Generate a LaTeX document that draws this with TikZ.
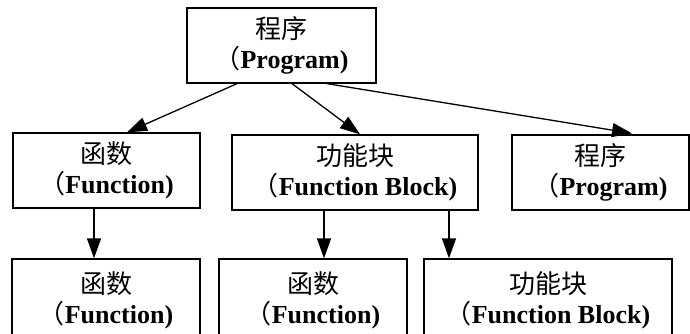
\documentclass[tikz,border=0pt]{standalone}
\usepackage{fontspec}
\setmainfont{Liberation Serif}
\newfontfamily\cjk{Noto Sans CJK SC}
\usetikzlibrary{arrows.meta,calc}

\newcommand{\zh}[1]{{\cjk #1}}
\newcommand{\en}[1]{\zh{（}\textbf{#1)}}

\begin{document}
\begin{tikzpicture}[
        x=1pt, y=-1pt,
        font=\fontsize{26}{30}\selectfont,
        box/.style={draw, line width=1.3pt, align=center, minimum height=75pt, inner sep=0pt},
        line/.style={-{Triangle[length=20pt,width=14pt]}, line width=1.3pt}
    ]
        \useasboundingbox (0,0) rectangle (690,334);
        \clip (0,0) rectangle (690,334);

        \node[box, minimum width=189pt] (prog) at (281.5,45.5) {\zh{程序}\\\en{Program}};

        \node[box, minimum width=187pt] (func) at (106.5,170.5) {\zh{函数}\\\en{Function}};
        \node[box, minimum width=246pt] (fb) at (355,172.5) {\zh{功能块}\\\en{Function Block}};
        \node[box, minimum width=177pt] (prog2) at (600.5,172.5) {\zh{程序}\\\en{Program}};

        \node[box, minimum width=188pt, minimum height=83pt] (func2) at (106,300.5) {\zh{函数}\\\en{Function}};
        \node[box, minimum width=188pt, minimum height=83pt] (func3) at (313,300.5) {\zh{函数}\\\en{Function}};
        \node[box, minimum width=248pt, minimum height=83pt] (fb2) at (548,300.5) {\zh{功能块}\\\en{Function Block}};

        \draw[line] ([xshift=-44.5pt]prog.south) -- ([xshift=20.5pt]func.north);
        \draw[line] ([xshift=10.5pt]prog.south) -- ([xshift=5pt]fb.north);
        \draw[line] ([xshift=45.5pt]prog.south) -- ([xshift=31.5pt,yshift=1pt]prog2.north);

        \draw[line] ([xshift=-12.5pt]func.south) -- ([xshift=-12.5pt]func.south |- func2.north);
        \draw[line] ([xshift=-31pt]fb.south) -- ([xshift=-31pt]fb.south |- func3.north);
        \draw[line] ([xshift=94pt]fb.south) -- ([xshift=94pt]fb.south |- fb2.north);
    \end{tikzpicture}
\end{document}
